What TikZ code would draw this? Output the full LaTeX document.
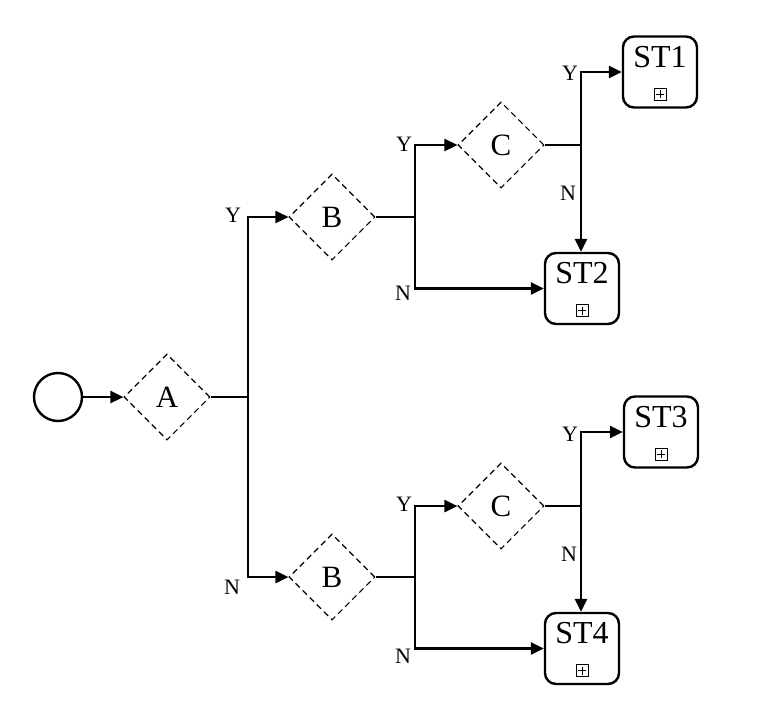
\documentclass[tikz,border=0pt]{standalone}
\usepackage{fontspec}
\setmainfont{Liberation Serif}
\usetikzlibrary{shapes.geometric,arrows.meta}
\tikzset{
  conn/.style={line width=2.6pt},
  arr/.style={conn,-{Triangle[length=13pt,width=12pt]}},
  dec/.style={diamond,draw,dashed,dash pattern=on 6pt off 4pt,line width=1.1pt,minimum width=86pt,minimum height=86pt,inner sep=0pt,font=\fontsize{31}{31}\selectfont},
  stbox/.style={draw,line width=2.4pt,rounded corners=11pt,minimum width=74pt,minimum height=71pt,inner sep=0pt},
  sttext/.style={font=\fontsize{32}{32}\selectfont,inner sep=0pt},
  bplus/.style={draw,line width=0.8pt,minimum size=12pt,inner sep=0pt,
    path picture={\draw[line width=0.8pt] ([yshift=-2pt]path picture bounding box.north) -- ([yshift=2pt]path picture bounding box.south)
      ([xshift=2pt]path picture bounding box.west) -- ([xshift=-2pt]path picture bounding box.east);}},
  lab/.style={font=\fontsize{22}{22}\selectfont,inner sep=0pt},
}
\begin{document}
\begin{tikzpicture}[x=1pt,y=-1pt]
\useasboundingbox (0,0) rectangle (776,709);
% start
\node[circle,draw,line width=2.4pt,minimum size=48pt,inner sep=0pt] (start) at (58,397) {};
% decisions
\node[dec] (A) at (167,397) {A};
\node[dec] (B1) at (332,217) {B};
\node[dec] (B2) at (332,577) {B};
\node[dec] (C1) at (501,145) {C};
\node[dec] (C2) at (501,506) {C};
% end states
\node[stbox] (ST1) at (660,72) {};
\node[stbox] (ST2) at (582,288.5) {};
\node[stbox] (ST3) at (661,432) {};
\node[stbox] (ST4) at (582,648.5) {};
\foreach \n/\t in {ST1/ST1,ST2/ST2,ST3/ST3,ST4/ST4}{
  \node[sttext] (\n t) at ([yshift=15pt]\n.center) {\t};
  \node[bplus] (\n p) at ([yshift=-22pt]\n.center) {};
}
% junctions
\coordinate (jA) at (248,397);
\coordinate (jB1) at (415,217);
\coordinate (jB2) at (415,577);
\coordinate (jC1) at (581,145);
\coordinate (jC2) at (581,506);
% connectors
\draw[arr] (start) -- (A);
\draw[conn] (A.east) -- (jA);
\draw[arr] (jA) |- (B1.west);
\draw[arr] (jA) |- (B2.west);
\draw[conn] (B1.east) -- (jB1);
\draw[arr] (jB1) |- (C1.west);
\draw[arr] (jB1) |- (ST2.west);
\draw[conn] (B2.east) -- (jB2);
\draw[arr] (jB2) |- (C2.west);
\draw[arr] (jB2) |- (ST4.west);
\draw[conn] (C1.east) -- (jC1);
\draw[arr] (jC1) |- (ST1.west);
\draw[arr] (jC1) -- (jC1 |- ST2.north);
\draw[conn] (C2.east) -- (jC2);
\draw[arr] (jC2) |- (ST3.west);
\draw[arr] (jC2) -- (jC2 |- ST4.north);
% labels
\node[lab] (l1) at (233,215) {Y};
\node[lab] (l2) at (232,587) {N};
\node[lab] (l3) at (404,144) {Y};
\node[lab] (l4) at (403,293) {N};
\node[lab] (l5) at (404,504) {Y};
\node[lab] (l6) at (403,656) {N};
\node[lab] (l7) at (570,73) {Y};
\node[lab] (l8) at (568,193) {N};
\node[lab] (l9) at (570,434) {Y};
\node[lab] (l10) at (569,554) {N};
\end{tikzpicture}
\end{document}
